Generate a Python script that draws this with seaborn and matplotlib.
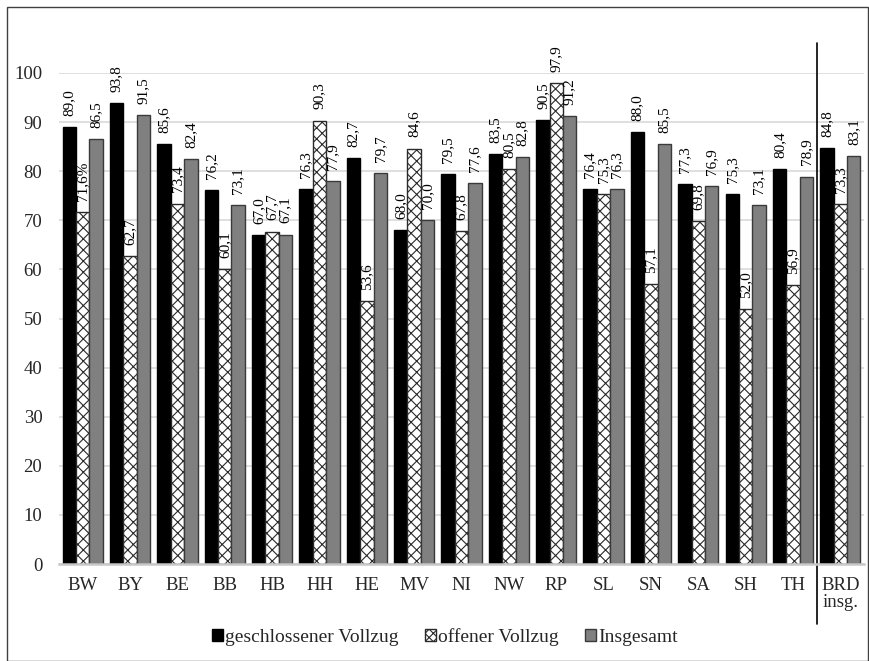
import matplotlib
matplotlib.use("Agg")
import matplotlib.pyplot as plt
from matplotlib.patches import Patch, Rectangle
from matplotlib.lines import Line2D
import seaborn as sns
import pandas as pd

# Bundesländer and federal total
laender = ["BW", "BY", "BE", "BB", "HB", "HH", "HE", "MV", "NI", "NW",
           "RP", "SL", "SN", "SA", "SH", "TH", "BRD\ninsg."]

geschlossen = [89.0, 93.8, 85.6, 76.2, 67.0, 76.3, 82.7, 68.0, 79.5, 83.5,
               90.5, 76.4, 88.0, 77.3, 75.3, 80.4, 84.8]
offen = [71.6, 62.7, 73.4, 60.1, 67.7, 90.3, 53.6, 84.6, 67.8, 80.5,
         97.9, 75.3, 57.1, 69.8, 52.0, 56.9, 73.3]
insgesamt = [86.5, 91.5, 82.4, 73.1, 67.1, 77.9, 79.7, 70.0, 77.6, 82.8,
             91.2, 76.3, 85.5, 76.9, 73.1, 78.9, 83.1]

serien = ["geschlossener Vollzug", "offener Vollzug", "Insgesamt"]
# extra suffix printed after a value label: (series, index) -> text
label_suffix = {(1, 0): "%"}

y_ticks = list(range(0, 101, 10))

sns.set_theme(style="white")
plt.rcParams["font.family"] = ["Liberation Serif", "DejaVu Serif"]
plt.rcParams["hatch.linewidth"] = 0.8

df = pd.DataFrame({
    "Land": laender * 3,
    "Wert": geschlossen + offen + insgesamt,
    "Serie": [serien[0]] * len(laender) + [serien[1]] * len(laender) + [serien[2]] * len(laender),
})

fig = plt.figure(figsize=(8.69, 6.61), dpi=100)
ax = fig.add_axes([0.0679, 0.1467, 0.9264, 0.7429])

palette = {serien[0]: "#000000", serien[1]: "#ffffff", serien[2]: "#808080"}
sns.barplot(data=df, x="Land", y="Wert", hue="Serie", hue_order=serien,
            order=laender, palette=palette, width=0.85, gap=0.0,
            saturation=1.0, errorbar=None, legend=False, ax=ax)

styles = [
    dict(edgecolor="#000000", hatch=None),
    dict(edgecolor="#2a2a2a", hatch="xxx"),
    dict(edgecolor="#3a3a3a", hatch=None),
]
for si, cont in enumerate(ax.containers):
    for bar in cont.patches:
        bar.set_edgecolor(styles[si]["edgecolor"])
        bar.set_linewidth(1.0)
        if styles[si]["hatch"]:
            bar.set_hatch(styles[si]["hatch"])
    vals = [geschlossen, offen, insgesamt][si]
    texts = [f"{v:.1f}".replace(".", ",") + label_suffix.get((si, i), "")
             for i, v in enumerate(vals)]
    ax.bar_label(cont, labels=texts, rotation=90, padding=8,
                 fontsize=11, color="black")

ax.set_ylim(0, 100)
ax.set_xlim(-0.5, len(laender) - 0.5)
ax.set_yticks(y_ticks)
ax.set_yticklabels([str(t) for t in y_ticks], fontsize=13.5)
ax.tick_params(axis="y", length=0, pad=12)
ax.tick_params(axis="x", length=0, pad=9, labelsize=13.5)
for lbl in ax.get_xticklabels():
    lbl.set_verticalalignment("top")
    lbl.set_linespacing(1.0)
ax.set_xlabel("")
ax.set_ylabel("")
ax.grid(axis="y", color="#d9d9d9", linewidth=1.2)
ax.set_axisbelow(True)
for side in ["top", "right", "left"]:
    ax.spines[side].set_visible(False)
ax.spines["bottom"].set_color("#c8c8c8")
ax.spines["bottom"].set_linewidth(1.8)

# separator between the Länder and the federal total
sep_x = len(laender) - 1.5
ax.add_line(Line2D([sep_x, sep_x], [-12.3, 106.2], color="black",
                   linewidth=1.2, clip_on=False))

handles = [
    Patch(facecolor="#000000", edgecolor="#000000", label=serien[0]),
    Patch(facecolor="#ffffff", edgecolor="#2a2a2a", hatch="xxxx", label=serien[1]),
    Patch(facecolor="#808080", edgecolor="#3a3a3a", label=serien[2]),
]
fig.legend(handles=handles, loc="center", bbox_to_anchor=(0.512, 0.036),
           ncol=3, frameon=False, fontsize=14, handlelength=0.55,
           handleheight=0.55, handletextpad=0.12, columnspacing=1.35)

# frame around the whole chart
fig.add_artist(Rectangle((7 / 869, 0.0), 861 / 869, 654 / 661,
                         transform=fig.transFigure, fill=False,
                         edgecolor="#404040", linewidth=1.0))

fig.savefig("out.png", dpi=100)
